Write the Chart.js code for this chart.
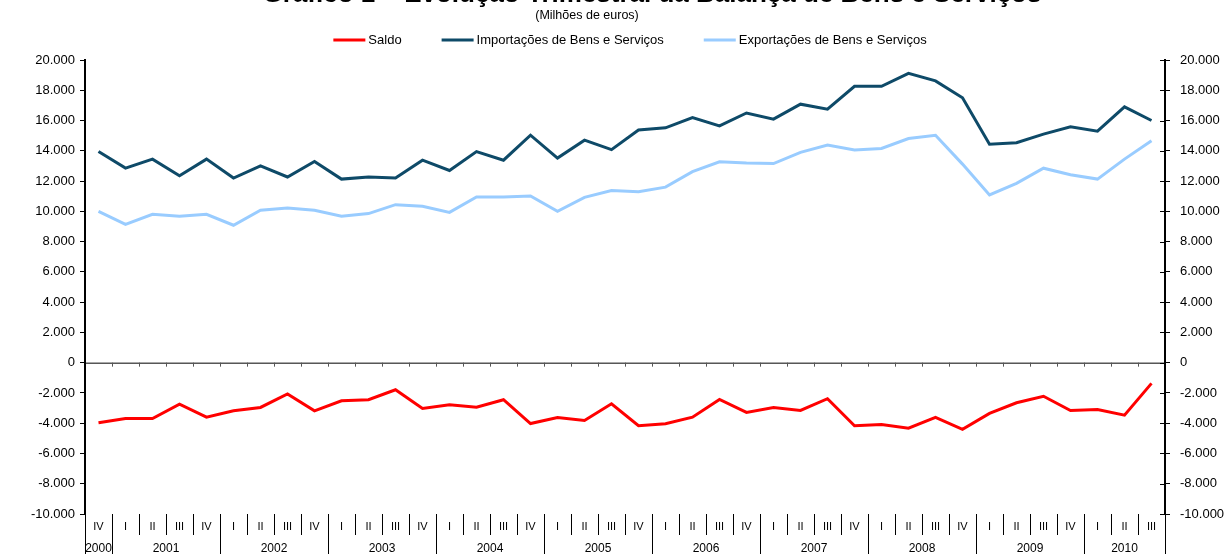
<!DOCTYPE html>
<html>
<head>
<meta charset="utf-8">
<script src="https://cdn.jsdelivr.net/npm/chart.js@4.4.0/dist/chart.umd.min.js"></script>
<style>
  html, body { margin: 0; padding: 0; background: #fff; }
</style>
</head>
<body>
<canvas id="balanca" width="1224" height="554"></canvas>
<script>
const titleText = 'Gráfico 1 – Evolução Trimestral da Balança de Bens e Serviços';
const subtitleText = '(Milhões de euros)';

const years = ['2000',
  '2001','2001','2001','2001', '2002','2002','2002','2002', '2003','2003','2003','2003',
  '2004','2004','2004','2004', '2005','2005','2005','2005', '2006','2006','2006','2006',
  '2007','2007','2007','2007', '2008','2008','2008','2008', '2009','2009','2009','2009',
  '2010','2010','2010'];
const quarters = ['IV',
  'I','II','III','IV', 'I','II','III','IV', 'I','II','III','IV',
  'I','II','III','IV', 'I','II','III','IV', 'I','II','III','IV',
  'I','II','III','IV', 'I','II','III','IV', 'I','II','III','IV',
  'I','II','III'];

const saldo = [-3970,-3690,-3690,-2740,-3600,-3180,-2960,-2070,-3180,-2520,-2450,-1790,-3030,-2780,
  -2940,-2450,-4020,-3620,-3820,-2720,-4170,-4040,-3600,-2430,-3290,-2960,-3160,-2380,
  -4170,-4080,-4330,-3620,-4400,-3350,-2650,-2220,-3160,-3090,-3470,-1370];
const importacoes = [13950,12860,13450,12350,13450,12200,13000,12270,13300,12130,12270,12200,13380,12700,
  13950,13380,15030,13520,14700,14080,15380,15520,16200,15650,16500,16090,17080,16750,
  18260,18260,19120,18620,17500,14440,14530,15100,15580,15300,16900,16000];
const exportacoes = [10000,9140,9800,9670,9800,9080,10070,10220,10070,9670,9850,10440,10330,9930,
  10950,10950,11010,10000,10920,11380,11300,11600,12620,13270,13190,13160,13900,14380,
  14060,14150,14810,15030,13120,11080,11850,12850,12420,12130,13450,14660];

const yMin = -10000, yMax = 20000, yStep = 2000;

const font = 'Liberation Sans, Arial, sans-serif';

function fmt(v) {
  const s = Math.abs(v).toString().replace(/\B(?=(\d{3})+(?!\d))/g, '.');
  return (v < 0 ? '-' : '') + s;
}

const labels = years.map((y, i) => y + ' ' + quarters[i]);

// extra drawing: zero line, quarter/year labels, title, legend
const decor = {
  id: 'decor',
  beforeDatasetsDraw(chart) {
    const ctx = chart.ctx, x = chart.scales.x, y = chart.scales.y;
    const area = chart.chartArea;
    const y0 = y.getPixelForValue(0);
    ctx.save();
    ctx.strokeStyle = '#000';
    ctx.lineWidth = 1;
    ctx.beginPath();
    ctx.moveTo(area.left, y0 + 0.5);
    ctx.lineTo(area.right, y0 + 0.5);
    ctx.stroke();
    ctx.strokeStyle = '#555';
    ctx.beginPath();
    for (let i = 1; i < labels.length; i++) {
      const bx = Math.round((x.getPixelForValue(i - 1) + x.getPixelForValue(i)) / 2) + 0.5;
      ctx.moveTo(bx, y0);
      ctx.lineTo(bx, y0 + 4);
    }
    ctx.stroke();

    // right axis ticks cross the axis line
    const y2 = chart.scales.y2;
    ctx.strokeStyle = '#000';
    ctx.beginPath();
    for (let v = yMin; v <= yMax; v += yStep) {
      const py = Math.round(y2.getPixelForValue(v)) + 0.5;
      ctx.moveTo(area.right - 5, py);
      ctx.lineTo(area.right, py);
    }
    ctx.stroke();
    ctx.restore();
  },
  afterDraw(chart) {
    const ctx = chart.ctx, x = chart.scales.x;
    const area = chart.chartArea;
    const n = labels.length;
    const step = x.getPixelForValue(1) - x.getPixelForValue(0);
    ctx.save();

    // separators under the axis
    ctx.strokeStyle = '#000';
    ctx.lineWidth = 1;
    ctx.beginPath();
    for (let i = 0; i <= n; i++) {
      const bx = Math.round(x.getPixelForValue(Math.min(i, n - 1)) + (i === n ? step / 2 : -step / 2)) + 0.5;
      const yearBreak = i === 0 || i === n || years[i] !== years[i - 1];
      ctx.moveTo(bx, area.bottom);
      ctx.lineTo(bx, yearBreak ? chart.height : area.bottom + 21);
    }
    ctx.stroke();

    // quarter labels
    ctx.fillStyle = '#000';
    ctx.textAlign = 'center';
    ctx.textBaseline = 'middle';
    ctx.font = '11px ' + font;
    quarters.forEach((q, i) => ctx.fillText(q, x.getPixelForValue(i), area.bottom + 13));

    // year labels
    ctx.font = '12px ' + font;
    let start = 0;
    for (let i = 1; i <= n; i++) {
      if (i === n || years[i] !== years[start]) {
        const cx = (x.getPixelForValue(start) + x.getPixelForValue(i - 1)) / 2;
        ctx.fillText(years[start], cx, area.bottom + 35);
        start = i;
      }
    }

    // title (cut at the top edge) and subtitle
    ctx.font = 'bold 26px ' + font;
    ctx.textBaseline = 'alphabetic';
    ctx.fillText(titleText, 652, 2);
    ctx.font = '12.5px ' + font;
    ctx.textBaseline = 'middle';
    ctx.fillText(subtitleText, 587, 16);

    // legend
    const items = chart.data.datasets;
    ctx.font = '13px ' + font;
    const lineLen = 32, textGap = 3, itemGap = 40;
    const widths = items.map(d => lineLen + textGap + ctx.measureText(d.label).width);
    const total = widths.reduce((a, b) => a + b, 0) + itemGap * (items.length - 1);
    let lx = 630 - total / 2;
    const ly = 40;
    ctx.textAlign = 'left';
    items.forEach((d, i) => {
      ctx.strokeStyle = d.borderColor;
      ctx.lineWidth = 3;
      ctx.beginPath();
      ctx.moveTo(lx, ly);
      ctx.lineTo(lx + lineLen, ly);
      ctx.stroke();
      ctx.fillStyle = '#000';
      ctx.fillText(d.label, lx + lineLen + textGap, ly);
      lx += widths[i] + itemGap;
    });
    ctx.restore();
  }
};

const yAxis = (position, width, pad) => ({
  position: position,
  min: yMin,
  max: yMax,
  ticks: {
    stepSize: yStep,
    callback: v => fmt(v),
    color: '#000',
    font: { family: font, size: 13 },
    padding: pad
  },
  grid: { drawOnChartArea: false, color: '#000', tickLength: 5 },
  border: { color: '#000', width: 2 },
  afterFit: s => { s.width = width; }
});

new Chart(document.getElementById('balanca'), {
  type: 'line',
  data: {
    labels: labels,
    datasets: [
      { label: 'Saldo', data: saldo, borderColor: '#ff0000', yAxisID: 'y' },
      { label: 'Importações de Bens e Serviços', data: importacoes, borderColor: '#0e4a68', yAxisID: 'y' },
      { label: 'Exportações de Bens e Serviços', data: exportacoes, borderColor: '#99ccff', yAxisID: 'y' }
    ]
  },
  options: {
    responsive: false,
    animation: false,
    devicePixelRatio: 1,
    layout: { padding: { top: 60, left: 0, right: 0, bottom: 0 } },
    elements: {
      line: { borderWidth: 3, tension: 0, borderJoinStyle: 'miter' },
      point: { radius: 0 }
    },
    plugins: {
      legend: { display: false },
      title: { display: false },
      tooltip: { enabled: false }
    },
    scales: {
      x: {
        type: 'category',
        offset: true,
        ticks: { display: false },
        grid: { display: false },
        border: { display: false },
        afterFit: s => { s.height = 40; }
      },
      y: yAxis('left', 85, 5),
      y2: yAxis('right', 59, 10)
    }
  },
  plugins: [decor]
});
</script>
</body>
</html>
